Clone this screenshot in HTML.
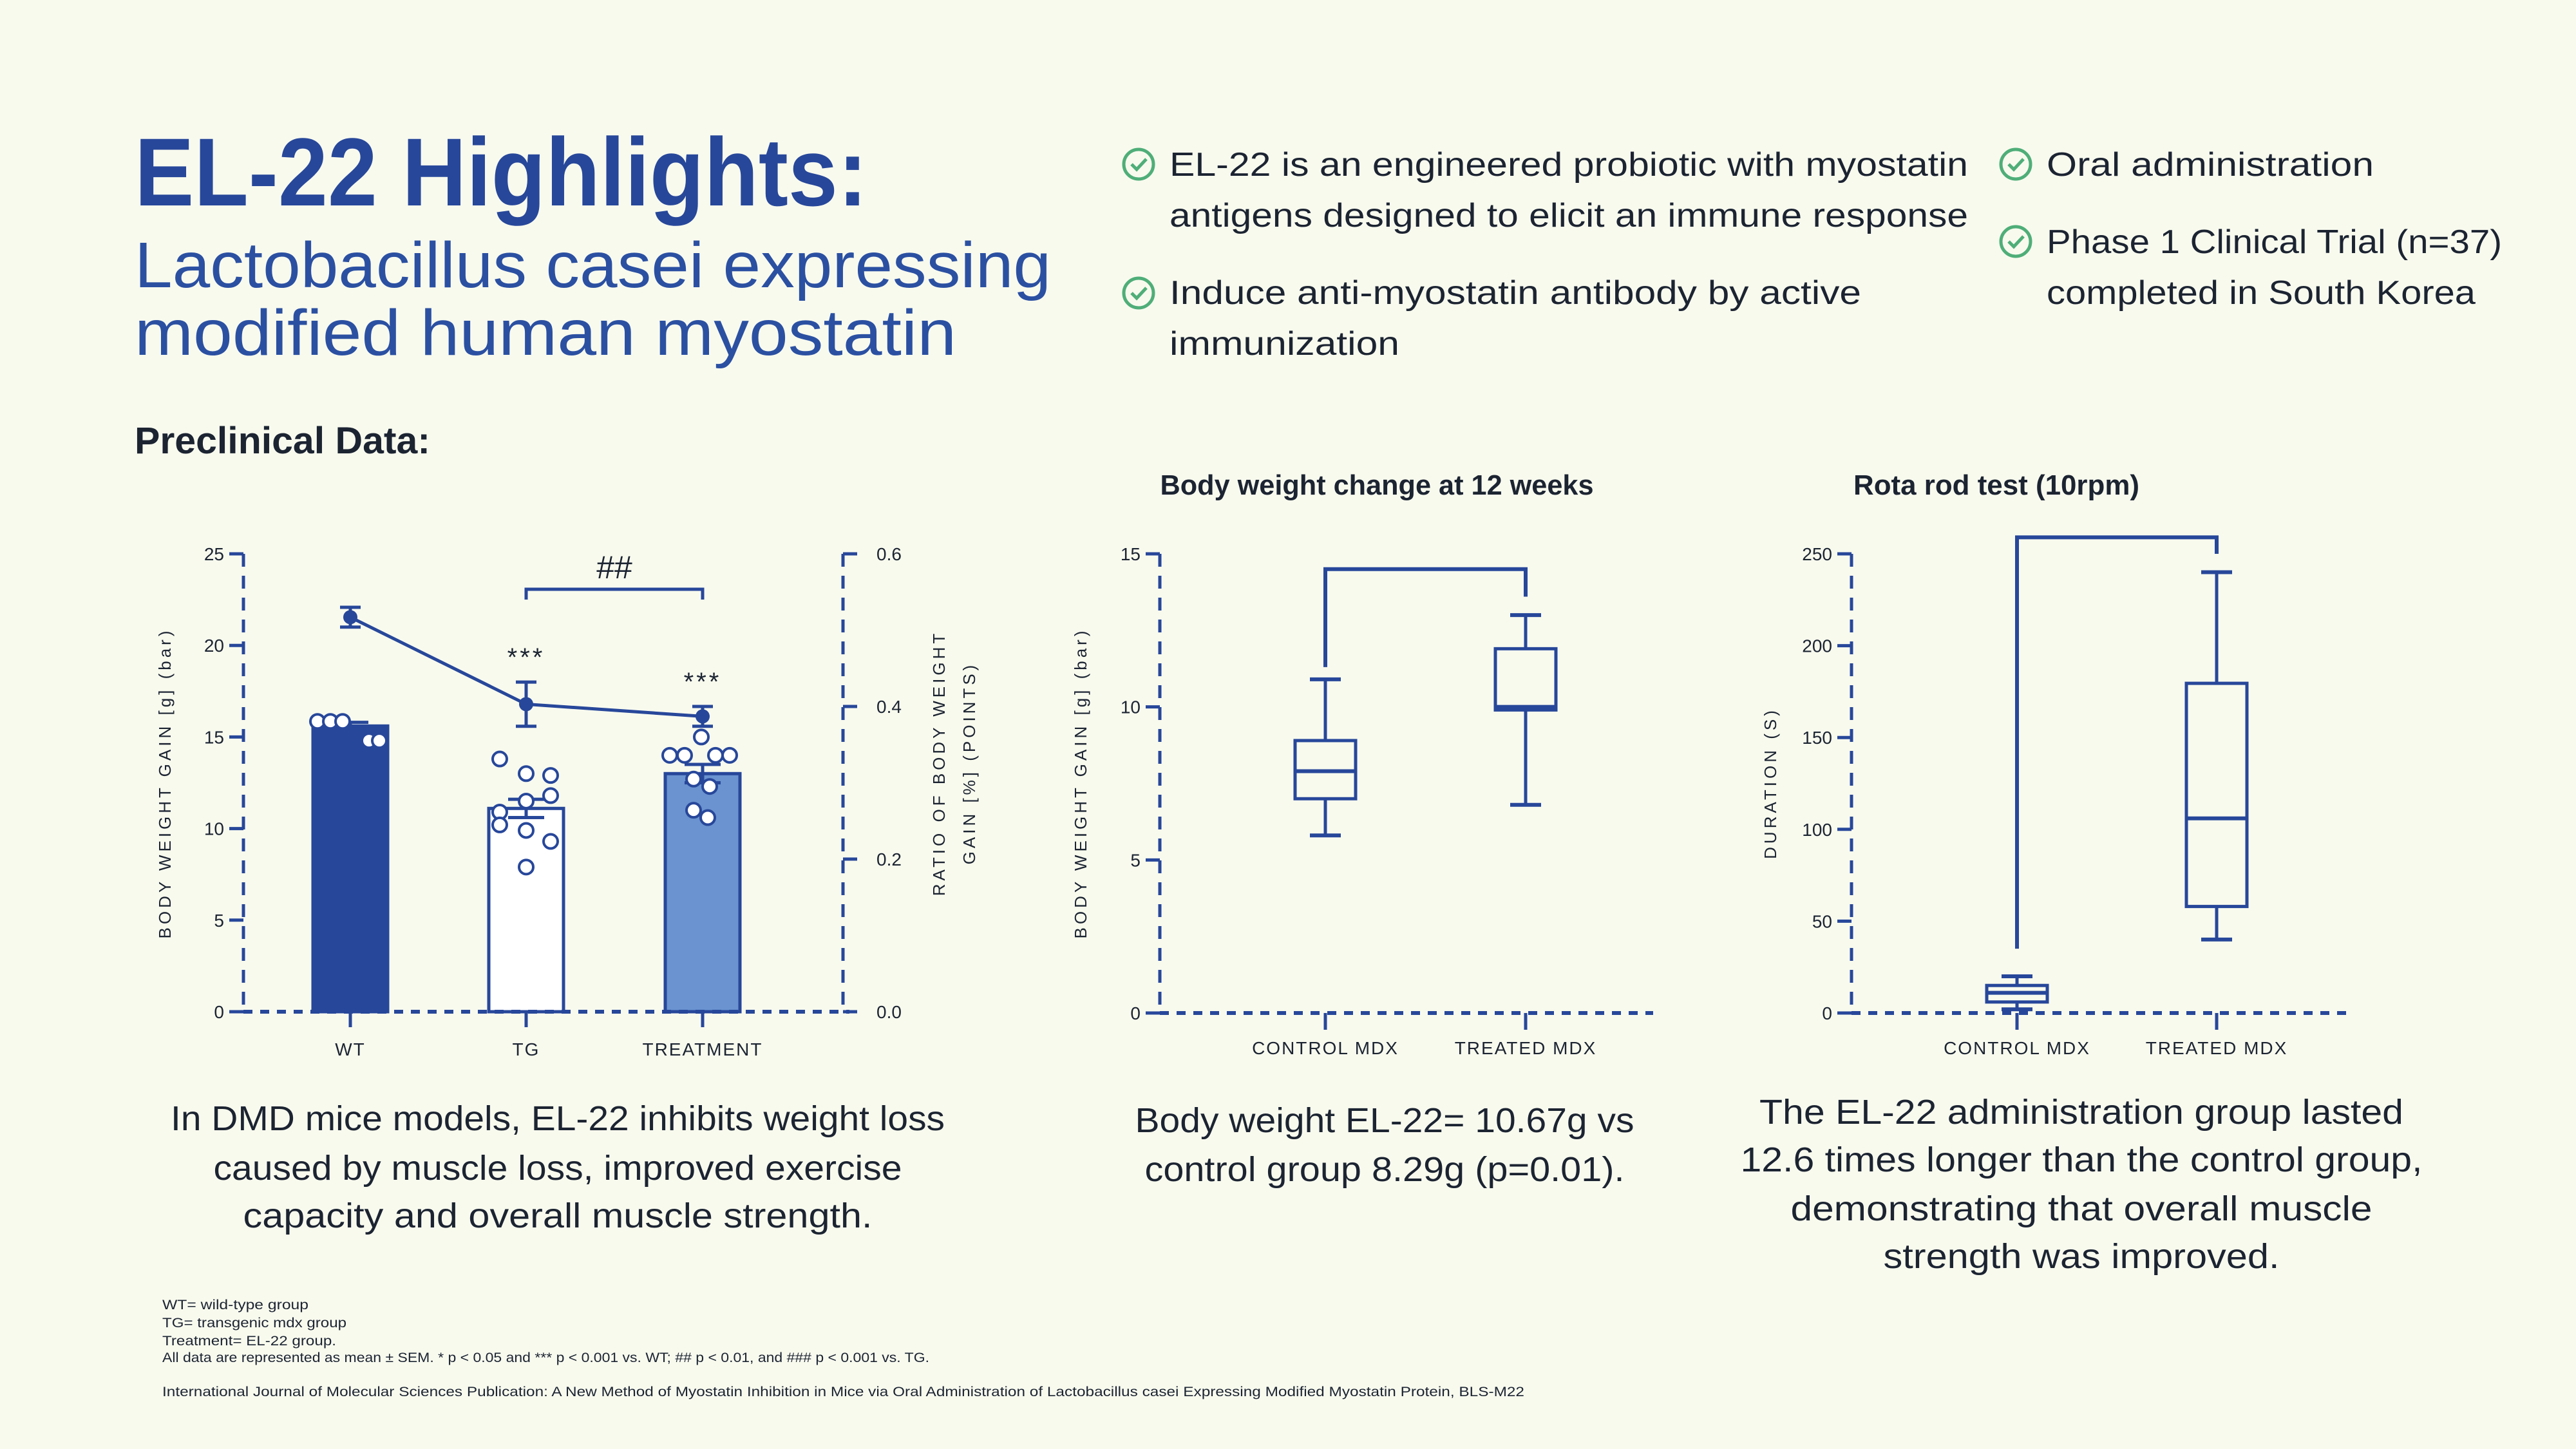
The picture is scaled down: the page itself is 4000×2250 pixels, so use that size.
<!DOCTYPE html>
<html><head><meta charset="utf-8"><style>
html,body{margin:0;padding:0;background:#f8faee;}
svg{display:block;font-family:"Liberation Sans",sans-serif;}
</style></head><body>
<svg id="root" width="4000" height="2250" viewBox="0 0 4000 2250" xmlns="http://www.w3.org/2000/svg">
<rect width="4000" height="2250" fill="#f8faee"/>
<g fill="#27479a" font-weight="bold">
<text x="209" y="319" font-size="150" textLength="1138" lengthAdjust="spacingAndGlyphs">EL-22 Highlights:</text>
<text x="209" y="446" font-size="100" font-weight="normal" fill="#2b50a2" textLength="1423" lengthAdjust="spacingAndGlyphs">Lactobacillus casei expressing</text>
<text x="209" y="551" font-size="100" font-weight="normal" fill="#2b50a2" textLength="1276" lengthAdjust="spacingAndGlyphs">modified human myostatin</text>
</g>
<g id="bullets" fill="#1c2432" font-size="52">
<text x="1816" y="273" textLength="1240" lengthAdjust="spacingAndGlyphs">EL-22 is an engineered probiotic with myostatin</text>
<text x="1816" y="352" textLength="1240" lengthAdjust="spacingAndGlyphs">antigens designed to elicit an immune response</text>
<text x="1816" y="472" textLength="1074" lengthAdjust="spacingAndGlyphs">Induce anti-myostatin antibody by active</text>
<text x="1816" y="551" textLength="357" lengthAdjust="spacingAndGlyphs">immunization</text>
<text x="3178" y="273" textLength="508" lengthAdjust="spacingAndGlyphs">Oral administration</text>
<text x="3178" y="393" textLength="707" lengthAdjust="spacingAndGlyphs">Phase 1 Clinical Trial (n=37)</text>
<text x="3178" y="472" textLength="666" lengthAdjust="spacingAndGlyphs">completed in South Korea</text>
</g>
<g fill="none" stroke="#4fae78" stroke-width="5">
<g transform="translate(1768,255)"><circle r="23"/><path d="M-11,0 L-3,8 L12,-8"/></g>
<g transform="translate(1768,455)"><circle r="23"/><path d="M-11,0 L-3,8 L12,-8"/></g>
<g transform="translate(3130,255)"><circle r="23"/><path d="M-11,0 L-3,8 L12,-8"/></g>
<g transform="translate(3130,375)"><circle r="23"/><path d="M-11,0 L-3,8 L12,-8"/></g>
</g>
<text x="209" y="704" font-size="58" font-weight="bold" fill="#1c2432" textLength="459" lengthAdjust="spacingAndGlyphs">Preclinical Data:</text>
<text x="2138" y="768" font-size="44" font-weight="bold" fill="#1c2432" text-anchor="middle" textLength="673" lengthAdjust="spacingAndGlyphs">Body weight change at 12 weeks</text>
<text x="3100" y="768" font-size="44" font-weight="bold" fill="#1c2432" text-anchor="middle" textLength="444" lengthAdjust="spacingAndGlyphs">Rota rod test (10rpm)</text>
<g fill="#1c2432" font-size="54" text-anchor="middle">
<text x="866" y="1755" textLength="1202" lengthAdjust="spacingAndGlyphs">In DMD mice models, EL-22 inhibits weight loss</text>
<text x="866" y="1832" textLength="1069" lengthAdjust="spacingAndGlyphs">caused by muscle loss, improved exercise</text>
<text x="866" y="1906" textLength="977" lengthAdjust="spacingAndGlyphs">capacity and overall muscle strength.</text>
<text x="2150" y="1758" textLength="775" lengthAdjust="spacingAndGlyphs">Body weight EL-22= 10.67g vs</text>
<text x="2150" y="1834" textLength="745" lengthAdjust="spacingAndGlyphs">control group 8.29g (p=0.01).</text>
<text x="3232" y="1745" textLength="1000" lengthAdjust="spacingAndGlyphs">The EL-22 administration group lasted</text>
<text x="3232" y="1819" textLength="1059" lengthAdjust="spacingAndGlyphs">12.6 times longer than the control group,</text>
<text x="3232" y="1895" textLength="903" lengthAdjust="spacingAndGlyphs">demonstrating that overall muscle</text>
<text x="3232" y="1969" textLength="615" lengthAdjust="spacingAndGlyphs">strength was improved.</text>
</g>
<g fill="#1c2432" font-size="21">
<text x="252" y="2033" textLength="227" lengthAdjust="spacingAndGlyphs">WT= wild-type group</text>
<text x="252" y="2061" textLength="286" lengthAdjust="spacingAndGlyphs">TG= transgenic mdx group</text>
<text x="252" y="2089" textLength="270" lengthAdjust="spacingAndGlyphs">Treatment= EL-22 group.</text>
<text x="252" y="2115" textLength="1191" lengthAdjust="spacingAndGlyphs">All data are represented as mean ± SEM. * p &lt; 0.05 and *** p &lt; 0.001 vs. WT; ## p &lt; 0.01, and ### p &lt; 0.001 vs. TG.</text>
<text x="252" y="2168" textLength="2115" lengthAdjust="spacingAndGlyphs">International Journal of Molecular Sciences Publication: A New Method of Myostatin Inhibition in Mice via Oral Administration of Lactobacillus casei Expressing Modified Myostatin Protein, BLS-M22</text>
</g>
<g id="charts"></g>
</svg>
<script>
// ---- Chart 1 data ----
const c1Categories = ['WT', 'TG', 'TREATMENT'];
const c1BarValues = [15.6, 11.1, 13.0];
const c1BarErr = [0.2, 0.5, 0.5];
const c1LineValues = [0.517, 0.403, 0.387];
const c1LineErr = [0.013, 0.029, 0.013];
const c1LeftTicks = [0, 5, 10, 15, 20, 25];
const c1RightTicks = ['0.0', '0.2', '0.4', '0.6'];
const c1PointsWT = [15.85, 15.85, 15.85, 14.8, 14.8];
const c1PointsTG = [13.8, 13.0, 12.9, 11.8, 11.5, 10.9, 10.2, 9.9, 9.3, 7.9];
const c1PointsTreat = [15.0, 14.0, 14.0, 14.0, 14.0, 12.7, 12.3, 11.0, 10.6];
// ---- Chart 2 data ----
const c2Categories = ['CONTROL MDX', 'TREATED MDX'];
const c2Min = [5.8, 6.8];
const c2Q1 = [7.0, 9.9];
const c2Median = [7.9, 10.0];
const c2Q3 = [8.9, 11.9];
const c2Max = [10.9, 13.0];
const c2Ticks = [0, 5, 10, 15];
// ---- Chart 3 data ----
const c3Categories = ['CONTROL MDX', 'TREATED MDX'];
const c3Min = [2, 40];
const c3Q1 = [6, 58];
const c3Median = [11, 106];
const c3Q3 = [15, 179.5];
const c3Max = [20, 240];
const c3Ticks = [0, 50, 100, 150, 200, 250];

const NS = 'http://www.w3.org/2000/svg';
const BLUE = '#27479a';
const root = document.getElementById('charts');
function mk(tag, attrs, parent, txt) {
  const e = document.createElementNS(NS, tag);
  for (const k in attrs) e.setAttribute(k, attrs[k]);
  if (txt !== undefined) e.textContent = txt;
  (parent || root).appendChild(e);
  return e;
}
function line(g, x1, y1, x2, y2, w, dash) {
  const a = {x1, y1, x2, y2, stroke: BLUE, 'stroke-width': w || 5};
  if (dash) a['stroke-dasharray'] = dash;
  return mk('line', a, g);
}

// ================= CHART 1 =================
const g1 = mk('g', {});


const c1x0 = 378, c1x1 = 1309, c1yTop = 860, c1yBot = 1571;
const c1y = v => c1yBot - v / 25 * (c1yBot - c1yTop);
const c1yr = v => c1yBot - v / 0.6 * (c1yBot - c1yTop);
const c1cx = [544, 817, 1091];
const c1barW = 116;
line(g1, c1x0, c1yTop, c1x0, c1yBot, 5, '20 14');
line(g1, c1x1, c1yTop, c1x1, c1yBot, 5, '20 14');
c1LeftTicks.forEach(t => {
  const y = c1y(t);
  const tk = line(g1, c1x0 - 22, y, c1x0, y, 5);
  
  
  const lb = mk('text', {x: c1x0 - 30, y: y + 10, 'font-size': 28, 'text-anchor': 'end', fill: '#1c2432'}, g1, t);
  
  
});
c1RightTicks.forEach(t => {
  const y = c1yr(parseFloat(t));
  const tk = line(g1, c1x1, y, c1x1 + 22, y, 5);
  
  
  const lb = mk('text', {x: c1x1 + 52, y: y + 10, 'font-size': 28, fill: '#1c2432'}, g1, t);
  
  
});
const fills = [BLUE, '#ffffff', '#6a93cf'];
c1Categories.forEach((c, i) => {
  const x = c1cx[i], yv = c1y(c1BarValues[i]);
  const b = mk('rect', {x: x - c1barW / 2, y: yv, width: c1barW, height: c1yBot - yv, fill: fills[i], stroke: BLUE, 'stroke-width': 5}, g1);
  
  
  const tk = line(g1, x, c1yBot, x, c1yBot + 24, 5);
  
  
  const lb = mk('text', {x: x, y: c1yBot + 68, 'font-size': 28, 'text-anchor': 'middle', fill: '#1c2432', 'letter-spacing': 2}, g1, c);
  
  
});
const c1axisX = line(g1, c1x0, c1yBot, c1x1 + 10, c1yBot, 6, '14 12');


// scatter points
const offsWT = [-51, -31, -12, 29, 45];
const offsTG = [-41, 0, 38, 38, 0, -41, -41, 0, 38, 0];
const offsTreat = [-2, -51, -28, 20, 42, -14, 11, -14, 8];
function pts(vals, offs, ci, name) {
  vals.forEach((v, k) => {
    const p = mk('circle', {cx: c1cx[ci] + offs[k], cy: c1y(v), r: 11, fill: '#ffffff', stroke: BLUE, 'stroke-width': 4}, g1);
    
    
  });
}
// bar error bars
c1BarValues.forEach((v, i) => {
  const x = c1cx[i];
  const lo = c1y(v - c1BarErr[i]), hi = c1y(v + c1BarErr[i]);
  line(g1, x, lo, x, hi, 5);
  line(g1, x - 28, hi, x + 28, hi, 5);
  if (i > 0) line(g1, x - 28, lo, x + 28, lo, 5);
});
pts(c1PointsWT, offsWT, 0, 'wt-point');
pts(c1PointsTG, offsTG, 1, 'tg-point');
pts(c1PointsTreat, offsTreat, 2, 'treatment-point');
// line series
let d = '';
c1LineValues.forEach((v, i) => { d += (i ? 'L' : 'M') + c1cx[i] + ',' + c1yr(v); });
const ln = mk('path', {d, fill: 'none', stroke: BLUE, 'stroke-width': 5}, g1);


c1LineValues.forEach((v, i) => {
  const x = c1cx[i], y = c1yr(v);
  const lo = c1yr(v - c1LineErr[i]), hi = c1yr(v + c1LineErr[i]);
  line(g1, x, lo, x, hi, 5);
  line(g1, x - 16, lo, x + 16, lo, 5);
  line(g1, x - 16, hi, x + 16, hi, 5);
  const p = mk('circle', {cx: x, cy: y, r: 11, fill: BLUE}, g1);
  
  
});
// significance
const s1 = mk('text', {x: c1cx[1], y: c1yr(c1LineValues[1] + c1LineErr[1]) - 25, 'font-size': 40, 'text-anchor': 'middle', fill: '#1c2432', 'letter-spacing': 4}, g1, '***');


const s2 = mk('text', {x: c1cx[2], y: c1yr(c1LineValues[2] + c1LineErr[2]) - 25, 'font-size': 40, 'text-anchor': 'middle', fill: '#1c2432', 'letter-spacing': 4}, g1, '***');


const br = mk('path', {d: `M${c1cx[1]},931 L${c1cx[1]},915 L${c1cx[2]},915 L${c1cx[2]},931`, fill: 'none', stroke: BLUE, 'stroke-width': 5}, g1);


const hh = mk('text', {x: (c1cx[1] + c1cx[2]) / 2, y: 898, 'font-size': 50, 'text-anchor': 'middle', fill: '#1c2432'}, g1, '##');


const yl = mk('text', {transform: 'translate(265,1216) rotate(-90)', 'font-size': 26, 'text-anchor': 'middle', fill: '#1c2432', 'letter-spacing': 5}, g1, 'BODY WEIGHT GAIN [g] (bar)');


const yr1 = mk('text', {transform: 'translate(1467,1185) rotate(-90)', 'font-size': 26, 'text-anchor': 'middle', fill: '#1c2432', 'letter-spacing': 5}, g1, 'RATIO OF BODY WEIGHT');


const yr2 = mk('text', {transform: 'translate(1514,1185) rotate(-90)', 'font-size': 26, 'text-anchor': 'middle', fill: '#1c2432', 'letter-spacing': 5}, g1, 'GAIN [%] (POINTS)');



// ================= BOX CHARTS =================
function boxChart(name, x0, xEnd, yTopV, ticks, cats, cxs, mn, q1, md, q3, mx, bracket, ylab, ylabX) {
  const g = mk('g', {});
  
  
  const yB = 1573, yT = 860;
  const y = v => yB - v / yTopV * (yB - yT);
  line(g, x0, yT, x0, yB, 5, '20 14');
  ticks.forEach(t => {
    const tk = line(g, x0 - 22, y(t), x0, y(t), 5);
    
    
    const lb = mk('text', {x: x0 - 30, y: y(t) + 10, 'font-size': 28, 'text-anchor': 'end', fill: '#1c2432'}, g, t);
    
    
  });
  const ax = line(g, x0, yB, xEnd, yB, 6, '14 12');
  
  
  const bw = 94;
  cats.forEach((c, i) => {
    const x = cxs[i];
    const tk = line(g, x, yB, x, yB + 26, 5);
    
    
    const lb = mk('text', {x, y: yB + 64, 'font-size': 28, 'text-anchor': 'middle', fill: '#1c2432', 'letter-spacing': 2}, g, c);
    
    
    const bg = mk('g', {}, g);
    
    
    line(bg, x, y(mn[i]), x, y(q1[i]), 5);
    line(bg, x, y(q3[i]), x, y(mx[i]), 5);
    line(bg, x - 24, y(mn[i]), x + 24, y(mn[i]), 6);
    line(bg, x - 24, y(mx[i]), x + 24, y(mx[i]), 6);
    mk('rect', {x: x - bw / 2, y: y(q3[i]), width: bw, height: y(q1[i]) - y(q3[i]), fill: 'none', stroke: BLUE, 'stroke-width': 5}, bg);
    line(bg, x - bw / 2, y(md[i]), x + bw / 2, y(md[i]), 6);
  });
  const bp = mk('path', {d: `M${cxs[0]},${y(bracket[1])} L${cxs[0]},${y(bracket[0])} L${cxs[1]},${y(bracket[0])} L${cxs[1]},${y(bracket[2])}`, fill: 'none', stroke: BLUE, 'stroke-width': 6}, g);
  
  
  const t = mk('text', {transform: `translate(${ylabX},1216) rotate(-90)`, 'font-size': 26, 'text-anchor': 'middle', fill: '#1c2432', 'letter-spacing': 5}, g, ylab);
  
  
}
boxChart('chart2-box-plot', 1801, 2567, 15, c2Ticks, c2Categories, [2058, 2369], c2Min, c2Q1, c2Median, c2Q3, c2Max, [14.5, 11.3, 13.6], 'BODY WEIGHT GAIN [g] (bar)', 1687);
boxChart('chart3-box-plot', 2875, 3645, 250, c3Ticks, c3Categories, [3132, 3442], c3Min, c3Q1, c3Median, c3Q3, c3Max, [259, 35, 250], 'DURATION (S)', 2758);
</script>
</body></html>
